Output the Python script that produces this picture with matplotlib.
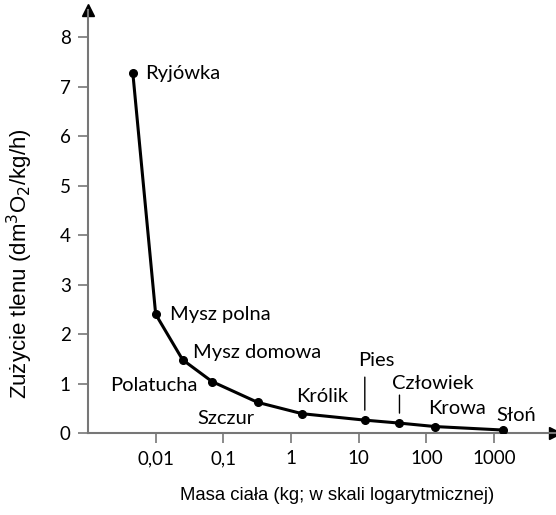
import matplotlib.pyplot as plt
import numpy as np

# dane
zwierzeta = ['Ryjówka', 'Mysz polna', 'Mysz domowa', 'Polatucha', 'Szczur',
             'Królik', 'Pies', 'Człowiek', 'Krowa', 'Słoń']
masa = [0.0046, 0.01, 0.025, 0.068, 0.32, 1.46, 12.3, 40, 135, 1350]
zuzycie = [7.27, 2.4, 1.48, 1.04, 0.62, 0.39, 0.26, 0.2, 0.13, 0.06]

# przesuniecia etykiet w pikselach
przes = [(12, 0, 'left'), (14, 0, 'left'), (10, 7, 'left'), (-15, -4, 'right'),
         (-32, -16, 'center'), (20, 17, 'center'), (12, 60, 'center'),
         (33, 40, 'center'), (22, 18, 'center'), (13, 15, 'center')]
kreski = {'Pies': (43, 10), 'Człowiek': (28, 10)}

fig = plt.figure(figsize=(5.56, 5.15), dpi=100)
ax = fig.add_axes([88 / 556, 82 / 515, 467 / 556, 423 / 515])

ax.plot(masa, zuzycie, color='black', lw=2.2, zorder=3)
ax.plot(masa, zuzycie, 'o', color='black', ms=5.5, zorder=4)
ax.set_xscale('log')
ax.set_xlim(10 ** -3, 10 ** 3.9)
ax.set_ylim(0, 8.55)

for n, x, y, (dx, dy, ha) in zip(zwierzeta, masa, zuzycie, przes):
    ax.annotate(n, (x, y), xytext=(dx, dy), textcoords='offset pixels',
                ha=ha, va='center', fontsize=14.5, family='Lato')
    if n in kreski:
        gora, dol = kreski[n]
        ax.annotate('', xy=(x, y), xytext=(0, gora), textcoords='offset pixels',
                    arrowprops=dict(arrowstyle='-', color='black', lw=1,
                                    shrinkA=0, shrinkB=dol * 0.72))

ax.set_xticks([0.01, 0.1, 1, 10, 100, 1000])
ax.set_xticklabels(['0,01', '0,1', '1', '10', '100', '1000'])
ax.xaxis.set_minor_locator(plt.NullLocator())
ax.set_yticks(range(0, 9))
for lab in ax.get_xticklabels() + ax.get_yticklabels():
    lab.set_family('Lato')
    lab.set_fontsize(13.5)
ax.tick_params(direction='out', length=7.5, width=1.2, color='#777777', pad=5)

for s in ['top', 'right']:
    ax.spines[s].set_visible(False)
for s in ['left', 'bottom']:
    ax.spines[s].set_color('#777777')
    ax.spines[s].set_linewidth(1.5)

ax.plot(0, 1, '^', color='black', ms=9, transform=ax.transAxes, clip_on=False)
ax.plot(1, 0, '>', color='black', ms=9, transform=ax.transAxes, clip_on=False)

ax.set_xlabel('Masa ciała (kg; w skali logarytmicznej)', family='Liberation Sans',
              fontsize=13.3)
ax.set_ylabel('Zużycie tlenu (dm$^3$O$_2$/kg/h)', family='Liberation Sans',
              fontsize=16)
ax.xaxis.set_label_coords(0.533, -0.128)
ax.yaxis.set_label_coords(-0.113, 0.40)

fig.savefig('out.png', dpi=100)
